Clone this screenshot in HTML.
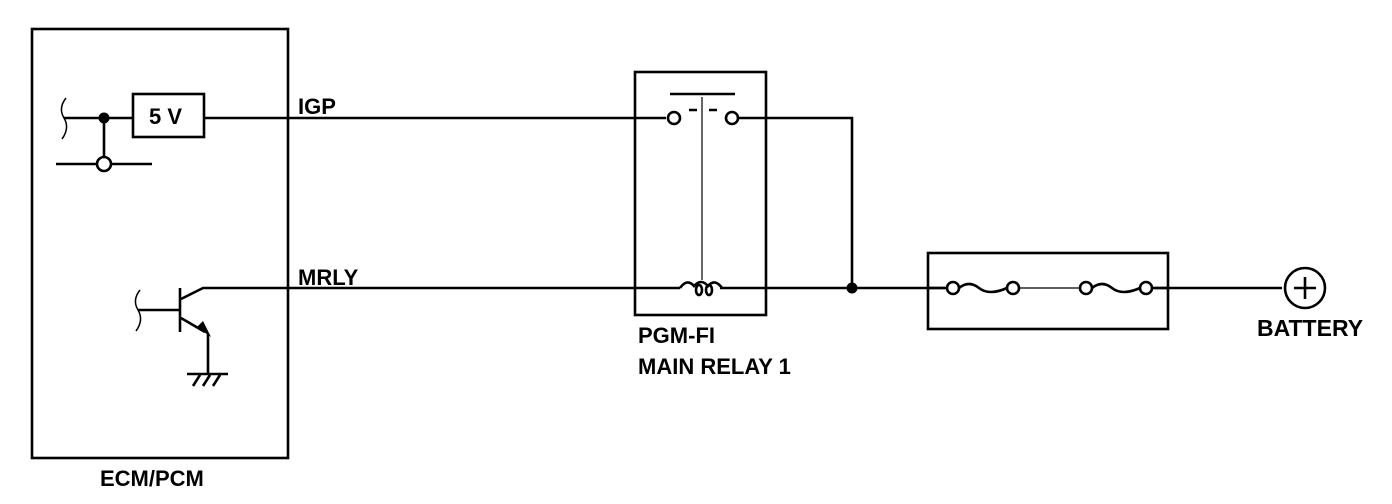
<!DOCTYPE html>
<html><head><style>body{margin:0;background:#fff}svg{display:block}text{font-family:"Liberation Sans",sans-serif;font-weight:bold;fill:#000}</style></head><body>
<svg width="1392" height="504" viewBox="0 0 1392 504" xmlns="http://www.w3.org/2000/svg">
<g stroke="#000" stroke-width="2.6" fill="none">
<rect x="32" y="29" width="256" height="429"/>
<rect x="133" y="94" width="71" height="43"/>
<path d="M66 98 q-8 10 -2 20 q6 10 -2 21" stroke-width="1.5"/>
<path d="M64 118 H133 M204 118 H666"/>
<path d="M104 118 V157 M56 164 H97 M111 164 H152"/>
<circle cx="104" cy="164" r="7" fill="#fff"/>
<path d="M140 290 q-8 10 -2 20 q6 10 -2 21" stroke-width="1.5"/>
<path d="M138 310 H180 M180 288 V332 M181 299 L203 288 H680"/>
<path d="M181 318 L205 332 M208 334 V374 M187 374 H228 M193 386 L200 375 M203 386 L210 375 M213 386 L220 375"/>
<rect x="635" y="72" width="131" height="243"/>
<path d="M670 94 H735"/>
<circle cx="674" cy="118" r="6"/>
<circle cx="732" cy="118" r="6"/>
<path d="M689 110 H697 M709 110 H717"/>
<path d="M739 118 H852 V288 M720 288 H1282"/>
<path d="M702 97 V280" stroke-width="1.2"/>
<path d="M680 288 q7 -10 14 -2 q7 -8 14 0 q7 -8 14 2"/>
<ellipse cx="699" cy="290" rx="3" ry="5"/>
<ellipse cx="709" cy="290" rx="3" ry="5"/>
<rect x="928" y="253" width="240" height="76"/>
<circle cx="1305" cy="288" r="20"/>
<path d="M1305 277 V299 M1294 288 H1316"/>
</g>
<rect x="945" y="282" width="210" height="12" fill="#fff"/>
<g stroke="#000" stroke-width="2.6" fill="#fff">
<path d="M928 288 H947 M1152 288 H1168" fill="none"/>
<path d="M1019 288 H1080" stroke-width="1.2"/>
<path d="M959 288 q10 -8 20 0 q10 8 28 0" fill="none"/>
<path d="M1092 288 q10 -8 20 0 q10 8 28 0" fill="none"/>
<circle cx="953" cy="288" r="6"/><circle cx="1013" cy="288" r="6"/>
<circle cx="1086" cy="288" r="6"/><circle cx="1146" cy="288" r="6"/>
</g>
<circle cx="104" cy="118" r="5.5"/>
<circle cx="852" cy="288" r="5.5"/>
<path d="M197 327 L211 337 L203 321 Z"/>
<text x="149" y="124" font-size="22">5 V</text>
<text x="298" y="114" font-size="22">IGP</text>
<text x="298" y="285" font-size="22">MRLY</text>
<text x="638" y="343" font-size="22">PGM-FI</text>
<text x="638" y="374" font-size="22">MAIN RELAY 1</text>
<text x="100" y="486" font-size="22">ECM/PCM</text>
<text x="1257" y="336" font-size="23">BATTERY</text>
</svg>
</body></html>
